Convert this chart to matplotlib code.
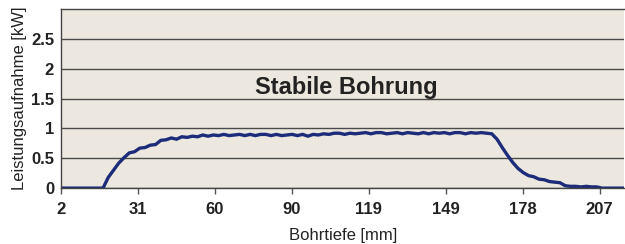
import numpy as np
import matplotlib
matplotlib.use('Agg')
import matplotlib.pyplot as plt

plt.rcParams['font.family'] = ['Liberation Sans', 'DejaVu Sans']

# depth samples in mm (every 2 mm) and measured power in kW
depth = np.arange(2, 218, 2)
power = [
    0.00, 0.00, 0.00, 0.00, 0.00, 0.00, 0.00, 0.00,          # 2-16
    0.00, 0.18, 0.30, 0.42, 0.51, 0.59, 0.61, 0.67,          # 18-32
    0.68, 0.72, 0.73, 0.80, 0.81, 0.84, 0.82, 0.86,          # 34-48
    0.85, 0.87, 0.86, 0.89, 0.87, 0.89, 0.88, 0.90,          # 50-64
    0.88, 0.89, 0.90, 0.88, 0.90, 0.88, 0.90, 0.90,          # 66-80
    0.88, 0.90, 0.88, 0.89, 0.90, 0.88, 0.90, 0.87,          # 82-96
    0.90, 0.89, 0.91, 0.90, 0.92, 0.92, 0.90, 0.92,          # 98-112
    0.91, 0.92, 0.93, 0.91, 0.93, 0.93, 0.91, 0.92,          # 114-128
    0.93, 0.91, 0.93, 0.92, 0.91, 0.93, 0.91, 0.93,          # 130-144
    0.92, 0.93, 0.91, 0.93, 0.93, 0.91, 0.93, 0.92,          # 146-160
    0.93, 0.92, 0.91, 0.82, 0.68, 0.55, 0.43, 0.33,          # 162-176
    0.26, 0.21, 0.19, 0.15, 0.14, 0.11, 0.10, 0.09,          # 178-192
    0.04, 0.03, 0.03, 0.02, 0.03, 0.02, 0.02, 0.00,          # 194-208
    0.00, 0.00, 0.00, 0.00,                                  # 210-216
]

tick_labels = ['2', '31', '60', '90', '119', '149', '178', '207']
tick_pos = [2 + 29.3 * i for i in range(len(tick_labels))]

fig = plt.figure(figsize=(6.25, 2.44), dpi=100)
ax = fig.add_axes([0.0976, 0.229, 0.9014, 0.734])
ax.set_facecolor('#ece8df')

ax.plot(depth, power, color='#1c2b7a', lw=2.4, solid_joinstyle='miter')

ax.set_xlim(2, 216.5)
ax.set_ylim(0, 3)
ax.set_yticks([0, 0.5, 1, 1.5, 2, 2.5])
ax.set_yticklabels(['0', '0.5', '1', '1.5', '2', '2.5'])
ax.set_xticks(tick_pos)
ax.set_xticklabels(tick_labels)
ax.yaxis.grid(True, color='#4a4a4a', lw=1)
ax.set_axisbelow(True)

ax.tick_params(axis='y', length=0, pad=5, labelsize=12, colors='#222222')
ax.tick_params(axis='x', length=4, width=1, color='#555555', pad=6,
               labelsize=12, labelcolor='#222222')
for lab in ax.get_xticklabels() + ax.get_yticklabels():
    lab.set_fontweight('bold')

for side in ['left', 'top', 'bottom']:
    ax.spines[side].set_color('#444444')
    ax.spines[side].set_linewidth(1)
ax.spines['right'].set_visible(False)

ax.set_xlabel('Bohrtiefe [mm]', fontsize=12, color='#222222', labelpad=8)
ax.set_ylabel('Leistungsaufnahme [kW]', fontsize=12, color='#222222', labelpad=3)

ax.text(110.5, 1.68, 'Stabile Bohrung', fontsize=17, fontweight='bold',
        color='#222222', ha='center', va='center')

fig.savefig('out.png', dpi=100)
